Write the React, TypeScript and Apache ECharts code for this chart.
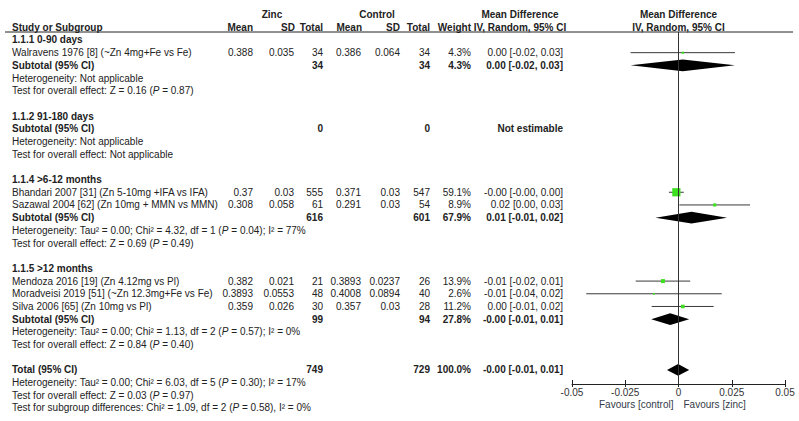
import React, { useEffect, useRef } from "react";
import * as echarts from "echarts";

// ---------- data ----------
const groupTitles = ["1.1.1 0-90 days", "1.1.2 91-180 days", "1.1.4 >6-12 months", "1.1.5 >12 months"];

const studyNames = [
  "Walravens 1976 [8] (~Zn 4mg+Fe vs Fe)",
  "Bhandari 2007 [31] (Zn 5-10mg +IFA vs IFA)",
  "Sazawal 2004 [62] (Zn 10mg + MMN vs MMN)",
  "Mendoza 2016 [19] (Zn 4.12mg vs Pl)",
  "Moradveisi 2019 [51] (~Zn 12.3mg+Fe vs Fe)",
  "Silva 2006 [65] (Zn 10mg vs Pl)",
];
const studyGroup = [0, 2, 2, 3, 3, 3];
const zincMean = ["0.388", "0.37", "0.308", "0.382", "0.3893", "0.359"];
const zincSD = ["0.035", "0.03", "0.058", "0.021", "0.0553", "0.026"];
const zincTotal = ["34", "555", "61", "21", "48", "30"];
const ctrlMean = ["0.386", "0.371", "0.291", "0.3893", "0.4008", "0.357"];
const ctrlSD = ["0.064", "0.03", "0.03", "0.0237", "0.0894", "0.03"];
const ctrlTotal = ["34", "547", "54", "26", "40", "28"];
const studyWeight = [4.3, 59.1, 8.9, 13.9, 2.6, 11.2];
const studyCI = [
  "0.00 [-0.02, 0.03]",
  "-0.00 [-0.00, 0.00]",
  "0.02 [0.00, 0.03]",
  "-0.01 [-0.02, 0.01]",
  "-0.01 [-0.04, 0.02]",
  "0.00 [-0.01, 0.02]",
];
const studyMD = [0.002, -0.001, 0.017, -0.0073, -0.0115, 0.002];
const studyLow = [-0.0225, -0.0045, 0.0004, -0.0201, -0.0433, -0.0126];
const studyHigh = [0.0265, 0.0025, 0.0336, 0.0055, 0.0203, 0.0165];

const subZincTotal = ["34", "0", "616", "99"];
const subCtrlTotal = ["34", "0", "601", "94"];
const subWeight = ["4.3%", "", "67.9%", "27.8%"];
const subCI = ["0.00 [-0.02, 0.03]", "Not estimable", "0.01 [-0.01, 0.02]", "-0.00 [-0.01, 0.01]"];
const subMD: (number | null)[] = [0.002, null, 0.0061, -0.0039];
const subLow: (number | null)[] = [-0.0225, null, -0.0108, -0.0128];
const subHigh: (number | null)[] = [0.0265, null, 0.0228, 0.005];
const subHet = [
  "Heterogeneity: Not applicable",
  "Heterogeneity: Not applicable",
  "Heterogeneity: Tau² = 0.00; Chi² = 4.32, df = 1 ({i|P} = 0.04); I² = 77%",
  "Heterogeneity: Tau² = 0.00; Chi² = 1.13, df = 2 ({i|P} = 0.57); I² = 0%",
];
const subTest = [
  "Test for overall effect: Z = 0.16 ({i|P} = 0.87)",
  "Test for overall effect: Not applicable",
  "Test for overall effect: Z = 0.69 ({i|P} = 0.49)",
  "Test for overall effect: Z = 0.84 ({i|P} = 0.40)",
];

const totalZinc = "749";
const totalCtrl = "729";
const totalWeight = "100.0%";
const totalCI = "-0.00 [-0.01, 0.01]";
const totalMD = -0.0002;
const totalLow = -0.0054;
const totalHigh = 0.005;
const totalNotes = [
  "Heterogeneity: Tau² = 0.00; Chi² = 6.03, df = 5 ({i|P} = 0.30); I² = 17%",
  "Test for overall effect: Z = 0.03 ({i|P} = 0.97)",
  "Test for subgroup differences: Chi² = 1.09, df = 2 ({i|P} = 0.58), I² = 0%",
];

const axisMin = -0.05;
const axisMax = 0.05;
const axisStep = 0.025;

// ---------- layout ----------
const W = 799;
const H = 421;
const FIRST_Y = 14.6;
const ROW_H = 12.69;
const RULE_Y = 32;
const AXIS_Y = 384;
const PLOT_L = 572;
const PLOT_R = 785;
const FONT = "'Liberation Sans', Arial, Helvetica, sans-serif";
const FS = 10;
const TXT = "#222";

const COL = {
  label: 12,
  zMean: 253,
  zSD: 294,
  zTot: 323,
  cMean: 361,
  cSD: 400,
  cTot: 430,
  w: 471,
  ci: 563,
};

const lineY = (i: number) => FIRST_Y + i * ROW_H;

function txt(x: number, line: number, text: string, align = "left", bold = false, yOverride?: number) {
  return {
    type: "text",
    x,
    y: yOverride !== undefined ? yOverride : lineY(line),
    silent: true,
    style: {
      text,
      fontSize: FS,
      fontFamily: FONT,
      fontWeight: bold ? "bold" : "normal",
      fill: TXT,
      align,
      verticalAlign: "middle",
      rich: {
        i: { fontSize: FS, fontFamily: FONT, fontStyle: "italic", fill: TXT },
      },
    },
  };
}

export default function App() {
  const ref = useRef<HTMLDivElement>(null);
  useEffect(() => {
    if (!ref.current) return;
    const chart = echarts.init(ref.current, undefined, { renderer: "svg" });

    const g: any[] = [];
    // headers
    g.push(txt(272, 0, "Zinc", "center", true));
    g.push(txt(377, 0, "Control", "center", true));
    g.push(txt(520, 0, "Mean Difference", "center", true));
    g.push(txt((PLOT_L + PLOT_R) / 2, 0, "Mean Difference", "center", true));
    g.push(txt(COL.label, 1, "Study or Subgroup", "left", true));
    g.push(txt(COL.zMean, 1, "Mean", "right", true));
    g.push(txt(COL.zSD + 1, 1, "SD", "right", true));
    g.push(txt(COL.zTot, 1, "Total", "right", true));
    g.push(txt(COL.cMean + 1, 1, "Mean", "right", true));
    g.push(txt(COL.cSD, 1, "SD", "right", true));
    g.push(txt(COL.cTot, 1, "Total", "right", true));
    g.push(txt(COL.w, 1, "Weight", "right", true));
    g.push(txt(520, 1, "IV, Random, 95% CI", "center", true));
    g.push(txt((PLOT_L + PLOT_R) / 2, 1, "IV, Random, 95% CI", "center", true));
    g.push({
      type: "line",
      silent: true,
      shape: { x1: 5, y1: RULE_Y, x2: 793, y2: RULE_Y },
      style: { stroke: "#222", lineWidth: 1 },
    });

    // body
    const studyData: any[] = [];
    const diamondData: any[] = [];
    let line = 2;
    groupTitles.forEach((title, gi) => {
      g.push(txt(COL.label, line, title, "left", true));
      line++;
      studyNames.forEach((name, si) => {
        if (studyGroup[si] !== gi) return;
        g.push(txt(COL.label, line, name));
        g.push(txt(COL.zMean, line, zincMean[si], "right"));
        g.push(txt(COL.zSD, line, zincSD[si], "right"));
        g.push(txt(COL.zTot, line, zincTotal[si], "right"));
        g.push(txt(COL.cMean, line, ctrlMean[si], "right"));
        g.push(txt(COL.cSD, line, ctrlSD[si], "right"));
        g.push(txt(COL.cTot, line, ctrlTotal[si], "right"));
        g.push(txt(COL.w, line, studyWeight[si].toFixed(1) + "%", "right"));
        g.push(txt(COL.ci, line, studyCI[si], "right"));
        studyData.push([studyMD[si], line, studyLow[si], studyHigh[si], studyWeight[si]]);
        line++;
      });
      g.push(txt(COL.label, line, "Subtotal (95% CI)", "left", true));
      g.push(txt(COL.zTot, line, subZincTotal[gi], "right", true));
      g.push(txt(COL.cTot, line, subCtrlTotal[gi], "right", true));
      if (subWeight[gi]) g.push(txt(COL.w, line, subWeight[gi], "right", true));
      g.push(txt(COL.ci, line, subCI[gi], "right", true));
      if (subMD[gi] !== null) diamondData.push([subMD[gi], line, subLow[gi], subHigh[gi]]);
      line++;
      g.push(txt(COL.label, line, subHet[gi]));
      line++;
      g.push(txt(COL.label, line, subTest[gi]));
      line++;
      line++;
    });
    g.push(txt(COL.label, line, "Total (95% CI)", "left", true));
    g.push(txt(COL.zTot, line, totalZinc, "right", true));
    g.push(txt(COL.cTot, line, totalCtrl, "right", true));
    g.push(txt(COL.w, line, totalWeight, "right", true));
    g.push(txt(COL.ci, line, totalCI, "right", true));
    diamondData.push([totalMD, line, totalLow, totalHigh]);
    line++;
    totalNotes.forEach((n) => {
      g.push(txt(COL.label, line, n));
      line++;
    });

    // favours labels
    const zeroX = PLOT_L + ((0 - axisMin) / (axisMax - axisMin)) * (PLOT_R - PLOT_L);
    g.push({
      type: "text",
      x: zeroX - 5,
      y: 404,
      silent: true,
      style: { text: "Favours [control]", fontSize: FS, fontFamily: FONT, fill: "#343a48", align: "right", verticalAlign: "middle" },
    });
    g.push({
      type: "text",
      x: zeroX + 5,
      y: 404,
      silent: true,
      style: { text: "Favours [zinc]", fontSize: FS, fontFamily: FONT, fill: "#343a48", align: "left", verticalAlign: "middle" },
    });

    const yMin = (RULE_Y - FIRST_Y) / ROW_H;
    const yMax = (AXIS_Y - FIRST_Y) / ROW_H;

    const option: any = {
      animation: false,
      backgroundColor: "#fff",
      grid: { left: PLOT_L, top: RULE_Y, width: PLOT_R - PLOT_L, height: AXIS_Y - RULE_Y, containLabel: false },
      xAxis: [
        {
          type: "value",
          min: axisMin,
          max: axisMax,
          interval: axisStep,
          position: "bottom",
          splitLine: { show: false },
          axisLine: { show: true, lineStyle: { color: "#222", width: 1 } },
          axisTick: { show: true, length: 3, lineStyle: { color: "#222" } },
          axisLabel: { show: true, margin: 3, fontSize: FS, fontFamily: FONT, color: "#333" },
        },
        {
          type: "value",
          min: axisMin,
          max: axisMax,
          interval: axisStep,
          position: "bottom",
          splitLine: { show: false },
          axisLine: { show: false },
          axisTick: { show: true, inside: true, length: 4, lineStyle: { color: "#222" } },
          axisLabel: { show: false },
        },
      ],
      yAxis: { type: "value", inverse: true, min: yMin, max: yMax, show: false },
      series: [
        {
          type: "line",
          data: [],
          z: 1,
          silent: true,
          markLine: {
            silent: true,
            symbol: ["none", "none"],
            label: { show: false },
            lineStyle: { color: "#333", width: 1, type: "solid" },
            data: [{ xAxis: 0 }],
          },
        },
        {
          type: "custom",
          z: 3,
          silent: true,
          clip: false,
          data: studyData,
          encode: { x: 0, y: 1 },
          renderItem: (params: any, api: any) => {
            const c = api.coord([api.value(0), api.value(1)]);
            const l = api.coord([api.value(2), api.value(1)]);
            const r = api.coord([api.value(3), api.value(1)]);
            const s = Math.max(1.6, 8.2 * Math.sqrt(api.value(4) / 59.1));
            return {
              type: "group",
              children: [
                {
                  type: "line",
                  shape: { x1: l[0], y1: c[1], x2: r[0], y2: c[1] },
                  style: { stroke: "#3a3a3a", lineWidth: 1 },
                },
                {
                  type: "rect",
                  shape: { x: c[0] - s / 2, y: c[1] - s / 2, width: s, height: s },
                  style: { fill: "#3de01f" },
                },
              ],
            };
          },
        },
        {
          type: "custom",
          z: 3,
          silent: true,
          clip: false,
          data: diamondData,
          encode: { x: 0, y: 1 },
          renderItem: (params: any, api: any) => {
            const c = api.coord([api.value(0), api.value(1)]);
            const l = api.coord([api.value(2), api.value(1)]);
            const r = api.coord([api.value(3), api.value(1)]);
            const h = 5.8;
            return {
              type: "polygon",
              shape: { points: [[l[0], c[1]], [c[0], c[1] - h], [r[0], c[1]], [c[0], c[1] + h]] },
              style: { fill: "#000" },
            };
          },
        },
      ],
      graphic: g,
    };
    chart.setOption(option);
    return () => chart.dispose();
  }, []);

  return <div ref={ref} style={{ position: "fixed", left: 0, top: 0, width: W, height: H, background: "#fff" }} />;
}
